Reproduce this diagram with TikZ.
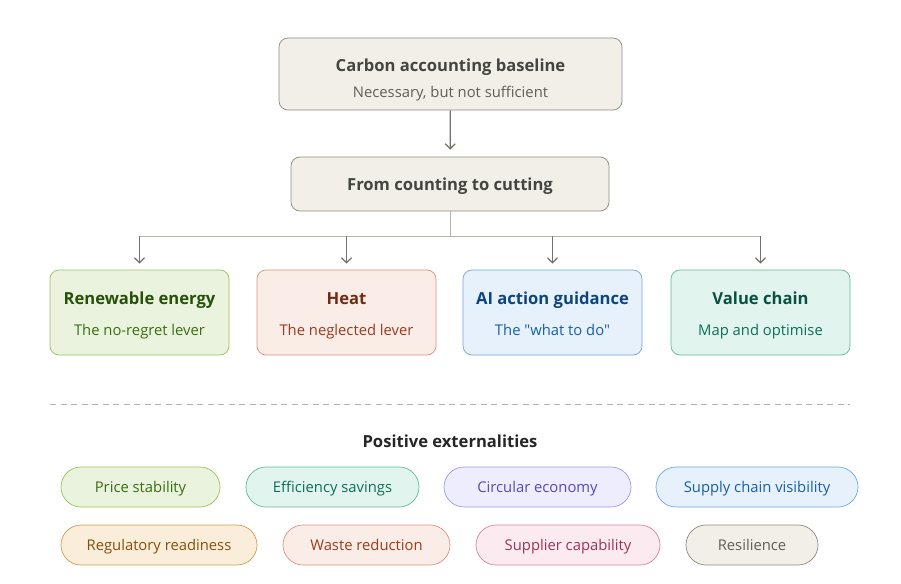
\documentclass[tikz,border=0pt]{standalone}
\usepackage{fontspec}
\setmainfont{Open Sans}[Ligatures=TeXOff]
\usepackage{tikz}
\usetikzlibrary{arrows.meta,positioning,calc}

\definecolor{grayfill}{HTML}{F1EFE8}
\definecolor{grayline}{HTML}{8C8A82}
\definecolor{graytext}{HTML}{444441}
\definecolor{graysub}{HTML}{5F5E5A}
\definecolor{linkgray}{HTML}{B4B2A9}
\definecolor{arrowgray}{HTML}{73726C}
\definecolor{greenfill}{HTML}{EAF3DE}
\definecolor{greenline}{HTML}{97C459}
\definecolor{greentitle}{HTML}{27500A}
\definecolor{greentext}{HTML}{3B6D11}
\definecolor{coralfill}{HTML}{FAECE7}
\definecolor{coralline}{HTML}{E0907A}
\definecolor{coraltitle}{HTML}{712B13}
\definecolor{coraltext}{HTML}{993C1D}
\definecolor{bluefill}{HTML}{E6F1FB}
\definecolor{blueline}{HTML}{6FA7E0}
\definecolor{bluetitle}{HTML}{0C447C}
\definecolor{bluetext}{HTML}{185FA5}
\definecolor{tealfill}{HTML}{E1F5EE}
\definecolor{tealline}{HTML}{5DBB98}
\definecolor{tealtitle}{HTML}{085041}
\definecolor{tealtext}{HTML}{0F6E56}
\definecolor{purplefill}{HTML}{EEEDFE}
\definecolor{purpleline}{HTML}{9F98E6}
\definecolor{purpletext}{HTML}{534AB7}
\definecolor{amberfill}{HTML}{FAEEDA}
\definecolor{amberline}{HTML}{D39A50}
\definecolor{ambertext}{HTML}{854F0B}
\definecolor{pinkfill}{HTML}{FBEAF0}
\definecolor{pinkline}{HTML}{D9809E}
\definecolor{pinktext}{HTML}{993556}

\tikzset{
  panel/.style={draw=grayline, fill=grayfill, rounded corners=9pt, line width=0.7pt},
  lever/.style={rounded corners=9pt, line width=0.7pt, minimum width=179pt, minimum height=85pt},
  pill/.style={rounded corners=20pt, line width=0.7pt, minimum height=40pt, inner sep=0pt,
    font=\fontsize{14.8}{17}\selectfont, text height=0.72em+4pt, text depth=0pt},
  headtxt/.style={font=\fontsize{16.6}{19}\selectfont\bfseries, text height=0.72em, text depth=0pt,
    inner sep=0pt, yshift=-2.5pt},
  subtxt/.style={font=\fontsize{14.8}{17}\selectfont, text height=0.72em, text depth=0pt,
    inner sep=0pt, yshift=-2.5pt},
  link/.style={draw=linkgray, line width=1pt},
  arr/.style={draw=arrowgray, line width=1.3pt, -{Straight Barb[length=5pt,width=10pt]}}
}

\begin{document}
\begin{tikzpicture}[x=1pt,y=1pt]
\useasboundingbox (0,0) rectangle (901,-583);

% top of the chain
\node[panel, minimum width=343pt, minimum height=72pt] (base) at (450.5,-74) {};
\node[headtxt, text=graytext] at (450.5,-65) {Carbon accounting baseline};
\node[subtxt, text=graysub] at (450.5,-91) {Necessary, but not sufficient};
\node[panel, minimum width=318pt, minimum height=54pt] (count) at (450,-184) {};
\node[headtxt, text=graytext] at (450,-184) {From counting to cutting};
\draw[arr, shorten >=7pt] (base) -- (count);

% the four levers
\node[lever, draw=greenline, fill=greenfill] (renew) at (139.5,-312.5) {};
\node[lever, draw=coralline, fill=coralfill] (heat) at (346.5,-312.5) {};
\node[lever, draw=blueline, fill=bluefill] (ai) at (552.5,-312.5) {};
\node[lever, draw=tealline, fill=tealfill] (chain) at (760.5,-312.5) {};
\node[headtxt, text=greentitle] at (139.5,-298) {Renewable energy};
\node[subtxt, text=greentext] at (139.5,-329) {The no-regret lever};
\node[headtxt, text=coraltitle] at (346.5,-298) {Heat};
\node[subtxt, text=coraltext] at (346.5,-329) {The neglected lever};
\node[headtxt, text=bluetitle] at (552.5,-298) {AI action guidance};
\node[subtxt, text=bluetext] at (552.5,-329) {The "what to do"};
\node[headtxt, text=tealtitle] at (760.5,-298) {Value chain};
\node[subtxt, text=tealtext] at (760.5,-329) {Map and optimise};

% branching
\coordinate (split) at (450,-236);
\draw[link] (count) -- (split);
\draw[link] (renew.north |- split) -- (chain.north |- split);
\foreach \n in {renew,heat,ai,chain}
  \draw[arr, shorten >=6pt] (\n.north |- split) -- (\n.north);

% externalities
\draw[draw=linkgray, line width=1pt, dash pattern=on 6pt off 4.5pt] (50,-404) -- (850,-404);
\node[headtxt, text=black!85] (ext) at (450,-441) {Positive externalities};

\node[pill, draw=greenline, fill=greenfill, text=greentext, minimum width=159pt] (price) at (140.5,-487) {Price stability};
\node[pill, draw=tealline, fill=tealfill, text=tealtext, minimum width=173pt] (effic) at (332.5,-487) {Efficiency savings};
\node[pill, draw=purpleline, fill=purplefill, text=purpletext, minimum width=187pt] (circ) at (537.5,-487) {Circular economy};
\node[pill, draw=blueline, fill=bluefill, text=bluetext, minimum width=202pt] (vis) at (757,-487) {Supply chain visibility};
\node[pill, draw=amberline, fill=amberfill, text=ambertext, minimum width=196pt] (reg) at (159,-545) {Regulatory readiness};
\node[pill, draw=coralline, fill=coralfill, text=coraltext, minimum width=167pt] (waste) at (366.5,-545) {Waste reduction};
\node[pill, draw=pinkline, fill=pinkfill, text=pinktext, minimum width=184pt] (supp) at (568,-545) {Supplier capability};
\node[pill, draw=grayline, fill=grayfill, text=graysub, minimum width=132pt] (resil) at (752,-545) {Resilience};
\end{tikzpicture}
\end{document}
